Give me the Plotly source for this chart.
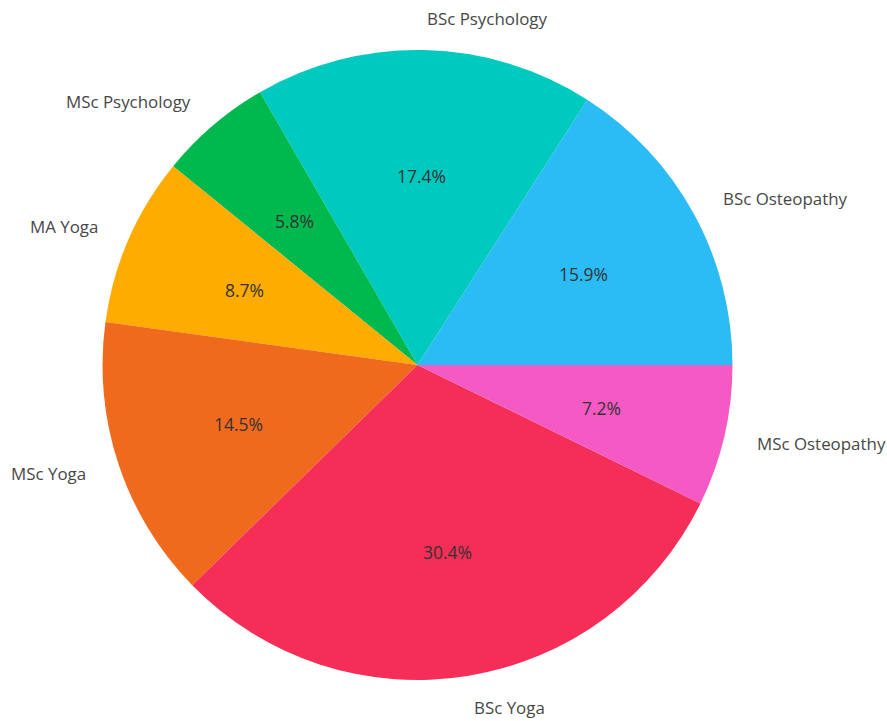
import math
import plotly.graph_objects as go

labels = ["BSc Osteopathy", "BSc Psychology", "MSc Psychology", "MA Yoga", "MSc Yoga", "BSc Yoga", "MSc Osteopathy"]
values = [11, 12, 4, 6, 10, 21, 5]
colors = ["#2BBCF6", "#00C9C0", "#00B94E", "#FFAB00", "#F06A1E", "#F52E57", "#F55AC4"]

W, H = 887, 721
cx, cy, R = 417.5, 365, 315

total = sum(values)
# first slice should begin at 3 o'clock and run counterclockwise
rot = 90 - 360 * values[0] / total

fig = go.Figure()
fig.add_trace(go.Pie(
    labels=labels, values=values, sort=False, direction="counterclockwise",
    rotation=rot, textinfo="none", hoverinfo="label+percent",
    marker=dict(colors=colors, line=dict(width=0)),
    domain=dict(x=[(cx - R) / W, (cx + R) / W], y=[(H - cy - R) / H, (H - cy + R) / H]),
    showlegend=False,
))

annotations = []
cum = 0
for lab, v in zip(labels, values):
    mid = 2 * math.pi * (cum + v / 2) / total
    cum += v
    c, s = math.cos(mid), math.sin(mid)
    annotations.append(dict(
        x=(cx + 0.6 * R * c) / W, y=(H - cy + 0.6 * R * s) / H, xref="paper", yref="paper",
        text=f"{100 * v / total:.1f}%", showarrow=False, xanchor="center", yanchor="middle",
        font=dict(family="Open Sans", size=17.5, color="#333333"),
    ))
    annotations.append(dict(
        x=(cx + 1.1 * R * c) / W, y=(H - cy + 1.1 * R * s) / H, xref="paper", yref="paper",
        text=lab, showarrow=False, xanchor="left" if c > 0 else "right", yanchor="middle",
        font=dict(family="Open Sans", size=16.9, color="#474747"),
    ))

fig.update_layout(
    width=W, height=H, margin=dict(l=0, r=0, t=0, b=0),
    paper_bgcolor="white", plot_bgcolor="white",
    annotations=annotations,
)
fig.write_html("out.html", config={"displayModeBar": False},
               post_script="document.body.style.margin='0';")
